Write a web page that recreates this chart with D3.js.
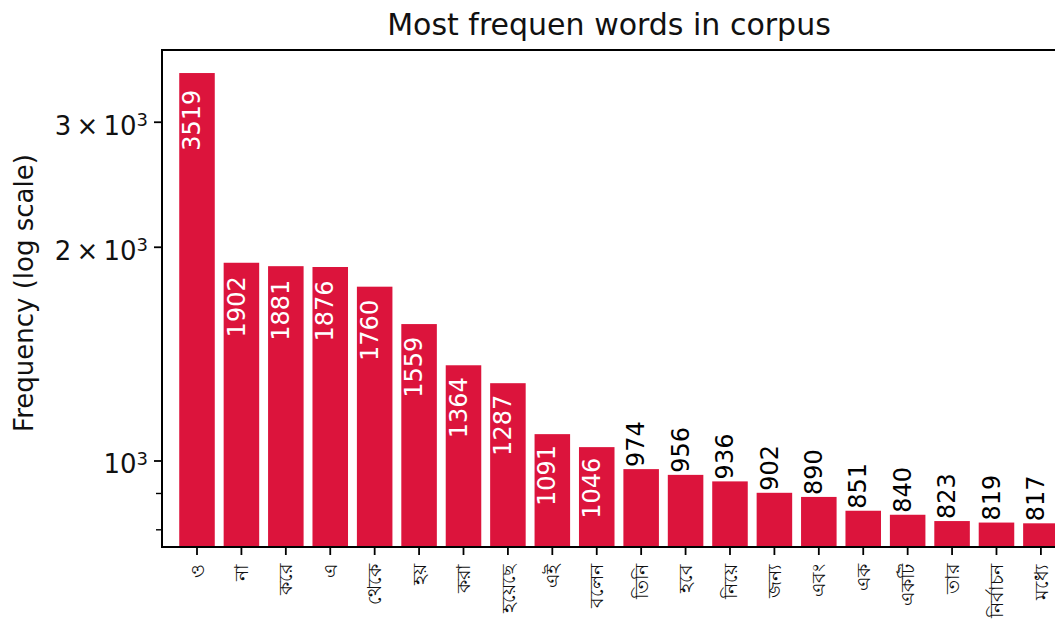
<!DOCTYPE html>
<html>
<head>
<meta charset="utf-8">
<script src="https://cdn.jsdelivr.net/npm/d3@7"></script>
<style>
  html, body { margin: 0; padding: 0; background: #fff; overflow: hidden; }
  svg { display: block; font-family: "DejaVu Sans", sans-serif; }
</style>
</head>
<body>
<svg id="chart" width="1055" height="638"></svg>
<script>
// ---- data ----
const words = ["ও", "না", "করে", "এ", "থেকে", "হয়", "করা", "হয়েছে", "এই", "বলেন",
               "তিনি", "হবে", "নিয়ে", "জন্য", "এবং", "এক", "একটি", "তার", "নির্বাচন", "মধ্যে"];
const freqs = [3519, 1902, 1881, 1876, 1760, 1559, 1364, 1287, 1091, 1046,
               974, 956, 936, 902, 890, 851, 840, 823, 819, 817];
const yLabeledTicks = [
  {v: 1000, mant: "", exp: "3"},
  {v: 2000, mant: "2", exp: "3"},
  {v: 3000, mant: "3", exp: "3"}
];
const yMinorTicks = [800, 900];
const titleText = "Most frequen words in corpus";
const yLabelText = "Frequency (log scale)";

// ---- layout ----
const L = 162, R = 1056, T = 50, B = 547;
const svg = d3.select("#chart");
svg.append("rect").attr("width", 1055).attr("height", 638).attr("fill", "#fff");

const x = d3.scaleLinear().domain([-0.788, 19.34]).range([L, R]);
const y = d3.scaleLog().domain([756.6, 3792]).range([B, T]);

svg.append("defs").append("clipPath").attr("id", "plotclip")
  .append("rect").attr("x", L).attr("y", T).attr("width", R - L).attr("height", B - T);

const plot = svg.append("g").attr("clip-path", "url(#plotclip)");
const idx = d3.range(freqs.length);

plot.selectAll("rect.bar").data(idx).enter().append("rect")
  .attr("class", "bar")
  .attr("x", i => x(i - 0.4))
  .attr("width", x(0.8) - x(0))
  .attr("y", i => y(freqs[i]))
  .attr("height", i => B - y(freqs[i]))
  .attr("fill", "#DC143C");

// value labels
plot.selectAll("text.val").data(idx).enter().append("text")
  .attr("class", "val")
  .attr("transform", i => {
    const v = freqs[i], top = y(v);
    if (v >= 1000) {
      const gap = 9 + 0.016 * (B - top);
      return `translate(${x(i)},${top + gap}) rotate(-90)`;
    }
    return `translate(${x(i)},${top - 2}) rotate(-90)`;
  })
  .attr("text-anchor", i => freqs[i] >= 1000 ? "end" : "start")
  .attr("dy", "0.13em")
  .attr("font-size", 24)
  .attr("fill", i => freqs[i] >= 1000 ? "#fff" : "#000")
  .text(i => freqs[i]);

// spines
const sp = svg.append("g").attr("stroke", "#000").attr("stroke-width", 2).attr("fill", "none");
sp.append("line").attr("x1", L).attr("x2", L).attr("y1", T - 1).attr("y2", B + 1);
sp.append("line").attr("x1", L - 1).attr("x2", R).attr("y1", B).attr("y2", B);
sp.append("line").attr("x1", L - 1).attr("x2", R).attr("y1", T).attr("y2", T);
sp.append("line").attr("x1", R).attr("x2", R).attr("y1", T).attr("y2", B);

// x ticks
const xt = svg.append("g");
xt.selectAll("line").data(idx).enter().append("line")
  .attr("x1", i => x(i)).attr("x2", i => x(i))
  .attr("y1", B).attr("y2", B + 8)
  .attr("stroke", "#000").attr("stroke-width", 1.8);
xt.selectAll("text").data(idx).enter().append("text")
  .attr("transform", i => `translate(${x(i)},${B + 17}) rotate(-90)`)
  .attr("text-anchor", "end")
  .attr("dy", "0.35em")
  .attr("font-size", 19)
  .attr("fill", "#111")
  .text(i => words[i]);

// y ticks
const yt = svg.append("g");
yt.selectAll("line.maj").data(yLabeledTicks).enter().append("line")
  .attr("x1", L - 8).attr("x2", L)
  .attr("y1", d => y(d.v)).attr("y2", d => y(d.v))
  .attr("stroke", "#000").attr("stroke-width", 1.8);
yt.selectAll("line.min").data(yMinorTicks).enter().append("line")
  .attr("x1", L - 6).attr("x2", L)
  .attr("y1", d => y(d)).attr("y2", d => y(d))
  .attr("stroke", "#000").attr("stroke-width", 1.4);
const yl = yt.selectAll("text").data(yLabeledTicks).enter().append("text")
  .attr("x", 148)
  .attr("y", d => y(d.v) + 12.5)
  .attr("text-anchor", "end")
  .attr("font-size", 26)
  .attr("fill", "#111");
yl.append("tspan").text(d => d.mant ? d.mant + "\u2009×\u200910" : "10");
yl.append("tspan").attr("font-size", 18).attr("dy", -8.5).text(d => d.exp);

// y axis label
svg.append("text")
  .attr("transform", `translate(33,293) rotate(-90)`)
  .attr("text-anchor", "middle")
  .attr("font-size", 26)
  .attr("fill", "#111")
  .text(yLabelText);

// title
svg.append("text")
  .attr("x", 609).attr("y", 35)
  .attr("text-anchor", "middle")
  .attr("font-size", 30)
  .attr("fill", "#111")
  .text(titleText);
</script>
</body>
</html>
